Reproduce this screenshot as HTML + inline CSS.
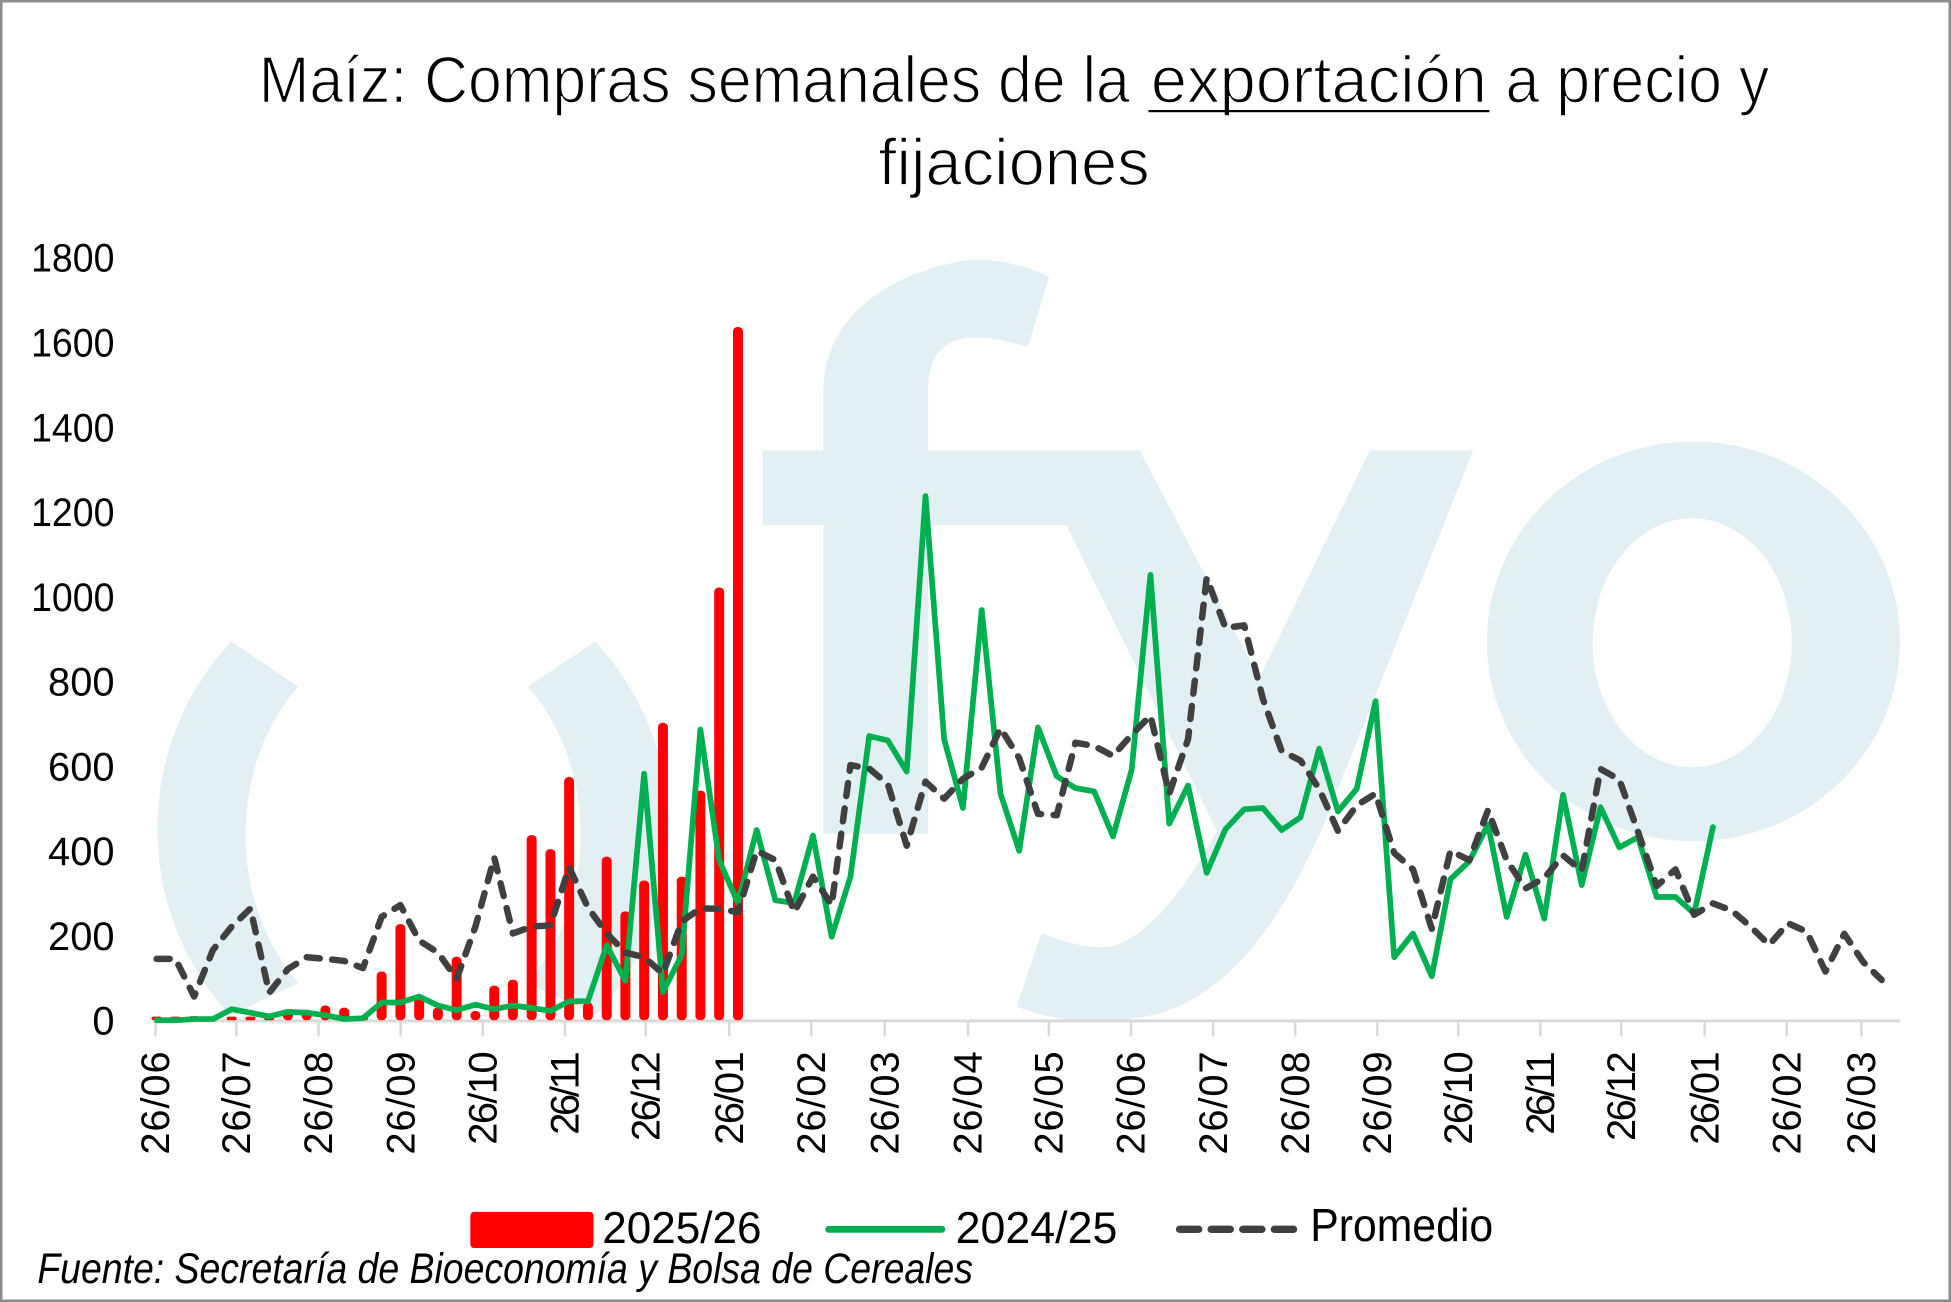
<!DOCTYPE html>
<html><head><meta charset="utf-8"><style>
html,body{margin:0;padding:0;background:#fff;}
svg{display:block;}
text{font-family:"Liberation Sans",Arial,sans-serif;fill:#000;}
.tt{stroke:#fff;stroke-width:1.2;}
</style></head><body>
<svg width="1951" height="1302" viewBox="0 0 1568 1046.4" preserveAspectRatio="none" xmlns="http://www.w3.org/2000/svg">
<rect x="0" y="0" width="1568" height="1046.4" fill="#fff"/>
<!-- watermark -->
<g fill="#e2f0f4">
<path d="M185.8,515.5 A207,215 0 0 0 185,816 L240,790 A132,162 0 0 1 239.6,551.8 Z"/>
<path d="M478.2,515.5 A207,215 0 0 1 479,816 L424,790 A132,162 0 0 0 424.4,551.8 Z"/>
<path d="M661.7,670 L661.7,422 L613,422 L613,362 L661.7,362 L661.7,313 C662,265 700,222 777,209 C800,207 825,214 843.3,222.3 L825.9,279.1 C810,274 795,271 782,271 C760,272 746,285 746,311 L746,362 L857,362 L857,422 L746,422 L746,670 Z"/>
<path d="M857,362 L916,362 L1012,545 L1101,362 L1184,362 L1077,630 C1045,715 1000,795 930,815 C905,821 885,821 862,820 C845,818 830,814 817,809 L837,750 C855,757 872,762 889,761 C910,760 945,730 978,668 L857,422 Z"/>
<path fill-rule="evenodd" d="M1195,515.5 A166,160.5 0 1 0 1527,515.5 A166,160.5 0 1 0 1195,515.5 Z M1280,516.5 A80,100 0 1 0 1440,516.5 A80,100 0 1 0 1280,516.5 Z"/>
</g>
<!-- title -->
<text class="tt" x="208" y="82.5" font-size="53" textLength="700" lengthAdjust="spacingAndGlyphs">Maíz: Compras semanales de la</text>
<text class="tt" x="925" y="82.5" font-size="53" textLength="270" lengthAdjust="spacingAndGlyphs">exportación</text>
<text class="tt" x="1210" y="82.5" font-size="53" textLength="212" lengthAdjust="spacingAndGlyphs">a precio y</text>
<rect x="923" y="88.4" width="274" height="1.8" fill="#000"/>
<text class="tt" x="706" y="148.7" font-size="53" textLength="218" lengthAdjust="spacingAndGlyphs">fijaciones</text>
<!-- y labels -->
<g font-size="32" text-anchor="end">
<text x="92" y="831.5">0</text>
<text x="92" y="763.4">200</text>
<text x="92" y="695.3">400</text>
<text x="92" y="627.1">600</text>
<text x="92" y="559">800</text>
<text x="92" y="490.9" textLength="67" lengthAdjust="spacingAndGlyphs">1000</text>
<text x="92" y="422.8" textLength="67" lengthAdjust="spacingAndGlyphs">1200</text>
<text x="92" y="354.7" textLength="67" lengthAdjust="spacingAndGlyphs">1400</text>
<text x="92" y="286.5" textLength="67" lengthAdjust="spacingAndGlyphs">1600</text>
<text x="92" y="218.4" textLength="67" lengthAdjust="spacingAndGlyphs">1800</text>
</g>
<!-- axis -->
<line x1="125" y1="820.5" x2="1527" y2="820.5" stroke="#d9d9d9" stroke-width="2.4"/>
<g stroke="#d9d9d9" stroke-width="2">
<line x1="125" y1="820" x2="125" y2="833"/><line x1="190" y1="820" x2="190" y2="833"/><line x1="256" y1="820" x2="256" y2="833"/><line x1="322" y1="820" x2="322" y2="833"/><line x1="388" y1="820" x2="388" y2="833"/><line x1="454" y1="820" x2="454" y2="833"/><line x1="519" y1="820" x2="519" y2="833"/><line x1="586" y1="820" x2="586" y2="833"/><line x1="652" y1="820" x2="652" y2="833"/><line x1="711" y1="820" x2="711" y2="833"/><line x1="778" y1="820" x2="778" y2="833"/><line x1="843" y1="820" x2="843" y2="833"/><line x1="909" y1="820" x2="909" y2="833"/><line x1="975" y1="820" x2="975" y2="833"/><line x1="1041" y1="820" x2="1041" y2="833"/><line x1="1107" y1="820" x2="1107" y2="833"/><line x1="1172" y1="820" x2="1172" y2="833"/><line x1="1238" y1="820" x2="1238" y2="833"/><line x1="1303" y1="820" x2="1303" y2="833"/><line x1="1370" y1="820" x2="1370" y2="833"/><line x1="1436" y1="820" x2="1436" y2="833"/><line x1="1496" y1="820" x2="1496" y2="833"/>
</g>
<!-- x labels -->
<g font-size="32" text-anchor="end" lengthAdjust="spacingAndGlyphs">
<text transform="translate(136,845) rotate(-90)" textLength="83">26/06</text>
<text transform="translate(201,845) rotate(-90)" textLength="83">26/07</text>
<text transform="translate(267,845) rotate(-90)" textLength="83">26/08</text>
<text transform="translate(333,845) rotate(-90)" textLength="83">26/09</text>
<text transform="translate(399,845) rotate(-90)" textLength="75">26/10</text>
<text transform="translate(465,845) rotate(-90)" textLength="67">26/11</text>
<text transform="translate(530,845) rotate(-90)" textLength="72">26/12</text>
<text transform="translate(597,845) rotate(-90)" textLength="75">26/01</text>
<text transform="translate(663,845) rotate(-90)" textLength="83">26/02</text>
<text transform="translate(722,845) rotate(-90)" textLength="83">26/03</text>
<text transform="translate(789,845) rotate(-90)" textLength="83">26/04</text>
<text transform="translate(854,845) rotate(-90)" textLength="83">26/05</text>
<text transform="translate(920,845) rotate(-90)" textLength="83">26/06</text>
<text transform="translate(986,845) rotate(-90)" textLength="83">26/07</text>
<text transform="translate(1052,845) rotate(-90)" textLength="83">26/08</text>
<text transform="translate(1118,845) rotate(-90)" textLength="83">26/09</text>
<text transform="translate(1183,845) rotate(-90)" textLength="75">26/10</text>
<text transform="translate(1249,845) rotate(-90)" textLength="67">26/11</text>
<text transform="translate(1314,845) rotate(-90)" textLength="72">26/12</text>
<text transform="translate(1381,845) rotate(-90)" textLength="75">26/01</text>
<text transform="translate(1447,845) rotate(-90)" textLength="83">26/02</text>
<text transform="translate(1507,845) rotate(-90)" textLength="83">26/03</text>
</g>
<!-- bars -->
<g fill="#ff0000">
<rect x="121.9" y="817" width="8" height="3" rx="1.5"/>
<rect x="137" y="817" width="8" height="3" rx="1.5"/>
<rect x="152" y="816.6" width="8" height="3.4" rx="1.7"/>
<rect x="167.1" y="817" width="8" height="3" rx="1.5"/>
<rect x="182.2" y="817" width="8" height="3" rx="1.5"/>
<rect x="197.3" y="817" width="8" height="3" rx="1.5"/>
<rect x="212.3" y="817" width="8" height="3" rx="1.5"/>
<rect x="227.4" y="811.5" width="8" height="8.5" rx="3.5"/>
<rect x="242.5" y="811.5" width="8" height="8.5" rx="3.5"/>
<rect x="257.5" y="808.1" width="8" height="11.9" rx="3.5"/>
<rect x="272.6" y="809.8" width="8" height="10.2" rx="3.5"/>
<rect x="287.7" y="817" width="8" height="3" rx="1.5"/>
<rect x="302.7" y="780.8" width="8" height="39.2" rx="3.5"/>
<rect x="317.8" y="742.7" width="8" height="77.3" rx="3.5"/>
<rect x="332.9" y="799.6" width="8" height="20.4" rx="3.5"/>
<rect x="347.9" y="809.8" width="8" height="10.2" rx="3.5"/>
<rect x="363" y="768.9" width="8" height="51.1" rx="3.5"/>
<rect x="378.1" y="812.5" width="8" height="7.5" rx="3.5"/>
<rect x="393.2" y="792.1" width="8" height="27.9" rx="3.5"/>
<rect x="408.2" y="787.3" width="8" height="32.7" rx="3.5"/>
<rect x="423.3" y="671.2" width="8" height="148.8" rx="3.5"/>
<rect x="438.4" y="682.4" width="8" height="137.6" rx="3.5"/>
<rect x="453.4" y="624.5" width="8" height="195.5" rx="3.5"/>
<rect x="468.5" y="805.7" width="8" height="14.3" rx="3.5"/>
<rect x="483.6" y="688.5" width="8" height="131.5" rx="3.5"/>
<rect x="498.6" y="732.5" width="8" height="87.5" rx="3.5"/>
<rect x="513.7" y="707.6" width="8" height="112.4" rx="3.5"/>
<rect x="528.8" y="580.9" width="8" height="239.1" rx="3.5"/>
<rect x="543.9" y="704.5" width="8" height="115.5" rx="3.5"/>
<rect x="558.9" y="635.4" width="8" height="184.6" rx="3.5"/>
<rect x="574" y="472.2" width="8" height="347.8" rx="3.5"/>
<rect x="589.1" y="262.8" width="8" height="557.2" rx="3.5"/>
</g>
<!-- green 2024/25 -->
<path fill="none" stroke="#00b050" stroke-width="4.6" stroke-linejoin="round" stroke-linecap="round" d="M125.9,820 L141,820 L156,819 L171.1,819 L186.2,811.1 L201.3,813.9 L216.3,816.9 L231.4,813.2 L246.5,813.9 L261.5,815.9 L276.6,819 L291.7,818.3 L306.7,805.7 L321.8,805.7 L336.9,800.9 L351.9,808.1 L367,811.8 L382.1,807.4 L397.2,811.1 L412.2,808.1 L427.3,810.1 L442.4,812.5 L457.4,804.7 L472.5,804.7 L487.6,759.7 L502.6,788.3 L517.7,621.8 L532.8,797.2 L547.9,767.5 L562.9,586.3 L578,691.3 L593.1,725.7 L608.1,667.1 L623.2,723.6 L638.3,725.7 L653.4,671.5 L668.4,752.9 L683.5,704.5 L698.6,591.5 L713.6,595.2 L728.7,620.1 L743.8,398.7 L758.8,594.2 L773.9,649.4 L789,490.3 L804.1,637.8 L819.1,683.8 L834.2,584.6 L849.3,623.8 L864.3,633.4 L879.4,636.1 L894.5,672.2 L909.5,618.7 L924.6,462 L939.7,661.9 L954.8,631.3 L969.8,701.5 L984.9,666.4 L1000,650.4 L1015,649.4 L1030.1,667.1 L1045.2,656.9 L1060.2,601.7 L1075.3,652.1 L1090.4,634 L1105.5,563.5 L1120.5,769.3 L1135.6,750.2 L1150.7,784.6 L1165.7,706.6 L1180.8,692.3 L1195.9,662.6 L1210.9,736.9 L1226,686.8 L1241.1,738.3 L1256.2,638.8 L1271.2,711.3 L1286.3,648.7 L1301.4,681 L1316.4,672.9 L1331.5,720.9 L1346.6,720.9 L1361.6,734.2 L1376.7,664.7"/>
<!-- promedio -->
<path fill="none" stroke="#404040" stroke-width="5.2" stroke-linejoin="round" stroke-linecap="round" stroke-dasharray="10.5 10" d="M125.9,770.6 L141,770.6 L156,800.9 L171.1,763.5 L186.2,744.7 L201.3,730.1 L216.3,797.9 L231.4,778.8 L246.5,769.3 L261.5,770.6 L276.6,772.3 L291.7,778.1 L306.7,736.9 L321.8,727.4 L336.9,756 L351.9,765.5 L367,786.6 L382.1,744.7 L397.2,689.2 L412.2,750.2 L427.3,744.7 L442.4,743.7 L457.4,697 L472.5,729.4 L487.6,750.2 L502.6,765.5 L517.7,769.3 L532.8,782.5 L547.9,740.6 L562.9,730.1 L578,730.4 L593.1,733.1 L608.1,683.8 L623.2,691.3 L638.3,733.1 L653.4,704.5 L668.4,727.4 L683.5,614.9 L698.6,617.7 L713.6,630.3 L728.7,679.7 L743.8,628.2 L758.8,641.9 L773.9,625.9 L789,617 L804.1,585.3 L819.1,609.2 L834.2,654.1 L849.3,655.2 L864.3,596.9 L879.4,599.6 L894.5,607.5 L909.5,590.4 L924.6,575.1 L939.7,637.8 L954.8,594.2 L969.8,464.4 L984.9,504.6 L1000,502.6 L1015,561.8 L1030.1,603.7 L1045.2,611.2 L1060.2,634 L1075.3,667.8 L1090.4,647.3 L1105.5,637.8 L1120.5,685.5 L1135.6,698.7 L1150.7,746.4 L1165.7,683.8 L1180.8,691.3 L1195.9,651.1 L1210.9,691.3 L1226,714.1 L1241.1,705.6 L1256.2,687.5 L1271.2,699.8 L1286.3,618 L1301.4,626.5 L1316.4,668.4 L1331.5,712 L1346.6,698.7 L1361.6,735.2 L1376.7,726 L1391.8,731.8 L1406.9,744.7 L1421.9,759.4 L1437,742 L1452.1,748.8 L1467.1,780.8 L1482.2,750.5 L1497.3,773 L1512.3,787.6"/>
<!-- legend -->
<rect x="378" y="974" width="99" height="29" rx="3" fill="#ff0000"/>
<text x="484" y="999" font-size="36" textLength="128" lengthAdjust="spacingAndGlyphs">2025/26</text>
<line x1="666" y1="988" x2="757" y2="988" stroke="#00b050" stroke-width="5.5" stroke-linecap="round"/>
<text x="768" y="999" font-size="36" textLength="130" lengthAdjust="spacingAndGlyphs">2024/25</text>
<g stroke="#404040" stroke-width="5.9" stroke-linecap="round">
<line x1="948" y1="988" x2="963.4" y2="988"/>
<line x1="973.4" y1="988" x2="988.8" y2="988"/>
<line x1="998.8" y1="988" x2="1014.2" y2="988"/>
<line x1="1024.2" y1="988" x2="1039.6" y2="988"/>
</g>
<text x="1053" y="997.5" font-size="37" textLength="147" lengthAdjust="spacingAndGlyphs">Promedio</text>
<text x="30" y="1031" font-size="34" font-style="italic" textLength="752" lengthAdjust="spacingAndGlyphs">Fuente: Secretaría de Bioeconomía y Bolsa de Cereales</text>
<!-- border -->
<rect x="1" y="1" width="1566" height="1044.4" fill="none" stroke="#8c8c8c" stroke-width="2"/>
</svg>
</body></html>
